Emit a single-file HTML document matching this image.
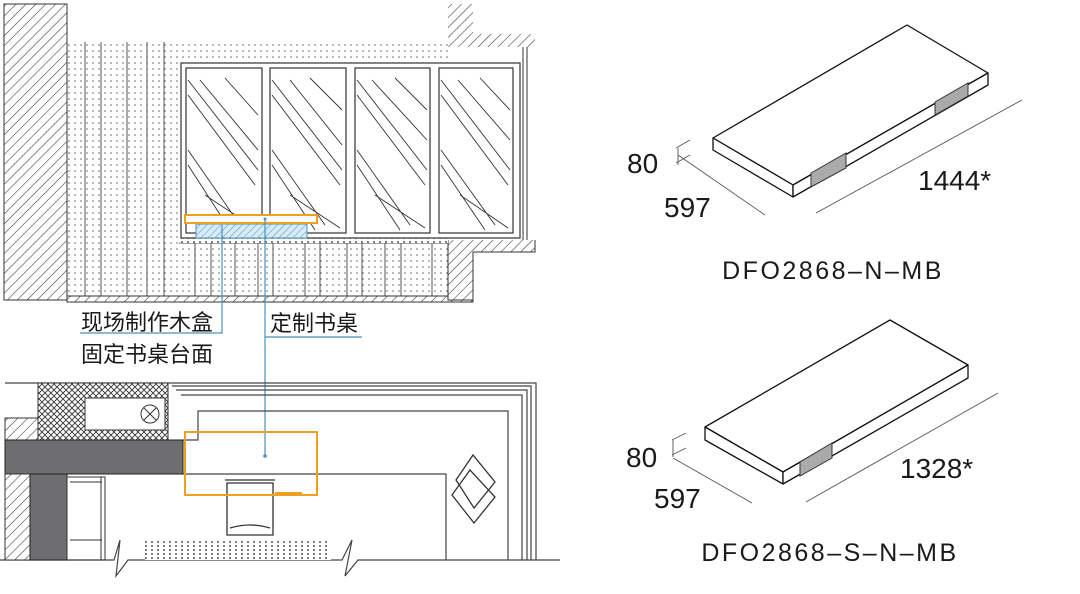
<!DOCTYPE html>
<html><head><meta charset="utf-8"><style>
body{margin:0;background:#fff;width:1080px;height:594px;overflow:hidden}
svg{display:block}
.t{font-family:"Liberation Sans","Noto Sans CJK SC",sans-serif;fill:#1a1a1a}
</style></head><body>
<svg width="1080" height="594" viewBox="0 0 1080 594" xmlns="http://www.w3.org/2000/svg">
<defs>
<pattern id="h" width="7" height="7" patternUnits="userSpaceOnUse" patternTransform="rotate(45)"><rect width="7" height="7" fill="#fff"/><line x1="0" y1="0" x2="0" y2="7" stroke="#333" stroke-width="1.1"/></pattern>
<pattern id="hb" width="5" height="5" patternUnits="userSpaceOnUse" patternTransform="rotate(45)"><rect width="5" height="5" fill="#d8ecf6"/><line x1="0" y1="0" x2="0" y2="5" stroke="#4a90c0" stroke-width="1"/></pattern>
<pattern id="d" width="6" height="6" patternUnits="userSpaceOnUse"><rect width="6" height="6" fill="#fff"/><circle cx="3" cy="3" r="0.8" fill="#666"/></pattern>
<pattern id="x" width="6" height="6" patternUnits="userSpaceOnUse"><rect width="6" height="6" fill="#fff"/><path d="M0 0L6 6M6 0L0 6" stroke="#333" stroke-width="0.9"/></pattern>
<pattern id="g" width="6" height="4" patternUnits="userSpaceOnUse"><rect width="6" height="4" fill="#fff"/><circle cx="2" cy="2" r="1" fill="#555"/></pattern>
</defs>
<!-- TOP PLAN -->
<rect x="67" y="42" width="381" height="254" fill="url(#d)"/>
<g stroke="#555" stroke-width="1">
<line x1="85" y1="42" x2="85" y2="296"/><line x1="101" y1="42" x2="101" y2="296"/><line x1="127" y1="42" x2="127" y2="296"/><line x1="147" y1="42" x2="147" y2="296"/><line x1="164" y1="42" x2="164" y2="296"/>
<line x1="179" y1="243" x2="448" y2="243"/>
<line x1="195" y1="243" x2="195" y2="296"/><line x1="211" y1="243" x2="211" y2="296"/><line x1="235" y1="243" x2="235" y2="296"/><line x1="258" y1="243" x2="258" y2="296"/><line x1="273" y1="243" x2="273" y2="296"/><line x1="305" y1="243" x2="305" y2="296"/><line x1="320" y1="243" x2="320" y2="296"/><line x1="347" y1="243" x2="347" y2="296"/><line x1="362" y1="243" x2="362" y2="296"/><line x1="385" y1="243" x2="385" y2="296"/><line x1="401" y1="243" x2="401" y2="296"/><line x1="432" y1="243" x2="432" y2="296"/>
</g>
<rect x="4" y="4" width="63" height="296" fill="url(#h)" stroke="#333"/>
<rect x="67" y="296" width="406" height="6" fill="url(#h)" stroke="#333"/>
<rect x="448" y="4" width="25" height="43" fill="url(#h)"/>
<rect x="473" y="34" width="62" height="13" fill="url(#h)"/>
<path d="M448 240V300H473V252H535V240" fill="url(#h)" stroke="#333"/>
<rect x="180" y="238" width="268" height="5" fill="url(#g)"/>
<rect x="181" y="63" width="339" height="175" fill="#fff" stroke="#333" stroke-width="1.2"/>
<line x1="523" y1="47" x2="523" y2="240" stroke="#333"/><line x1="527" y1="47" x2="527" y2="240" stroke="#333"/>
<g fill="#fff" stroke="#333" stroke-width="1.2">
<rect x="186" y="68" width="76" height="165"/><rect x="270" y="68" width="76" height="165"/><rect x="355" y="68" width="75" height="165"/><rect x="439" y="68" width="74" height="165"/>
</g>
<g stroke="#333" stroke-width="0.9">
<path d="M188 80L258 170M188 95L255 185M200 80L258 150M188 150L240 225M188 165L230 230M205 195L255 228M225 78L258 115"/>
<path d="M272 80L342 170M272 95L340 185M290 80L342 145M272 150L325 225M272 165L315 230M290 195L340 228M310 78L342 110"/>
<path d="M357 80L427 170M357 95L425 185M372 80L427 140M357 150L410 225M357 165L400 230M375 195L425 228M395 78L427 110"/>
<path d="M441 80L510 170M441 95L508 185M458 80L510 140M441 150L495 225M441 165L485 230M460 195L508 228M480 78L510 110"/>
</g>
<rect x="196" y="224" width="111" height="14" fill="url(#hb)" stroke="#4a90c0"/>
<rect x="185" y="215" width="132" height="8" fill="#fff" stroke="#f0a020" stroke-width="2"/>
<!-- leader lines -->
<g stroke="#4a90c0" stroke-width="1.2" fill="none">
<path d="M222 225V333H80"/>
<path d="M265 219V456M265 337H362"/>
</g>
<circle cx="265" cy="219" r="1.5" fill="#4a90c0"/><circle cx="265" cy="456" r="1.8" fill="#4a90c0"/>
<text class="t" x="81" y="330" font-size="22">现场制作木盒</text>
<text class="t" x="81" y="362" font-size="22">固定书桌台面</text>
<text class="t" x="270" y="331" font-size="22">定制书桌</text>
<!-- BOTTOM PLAN -->
<g fill="none" stroke="#444" stroke-width="1.2">
<path d="M5 383H536V560"/><path d="M172 386H531V560"/><path d="M176 390H527V560"/><path d="M181 395H522V560"/>
<path d="M183 440H198V411H508V560"/>
<path d="M183 474H446V560"/>
<path d="M0 560H114L120 540L116 576L128 560H342L352 540L345 576L358 560H560"/>
</g>
<rect x="38" y="383" width="130" height="57" fill="url(#x)" stroke="#333"/>
<rect x="85" y="398" width="80" height="32" fill="#fff" stroke="#333"/>
<circle cx="150" cy="414" r="9" fill="#fff" stroke="#333"/><path d="M144 408L156 420M156 408L144 420" stroke="#333"/>
<rect x="5" y="418" width="33" height="22" fill="url(#h)" stroke="#333"/>
<rect x="5" y="440" width="178" height="34" fill="#6e6e70" stroke="#222"/>
<rect x="5" y="474" width="25" height="86" fill="url(#h)" stroke="#333"/>
<rect x="30" y="474" width="37" height="86" fill="#6e6e70" stroke="#222"/>
<g fill="none" stroke="#333"><rect x="67" y="477" width="38" height="83"/><line x1="70" y1="482" x2="102" y2="482"/><line x1="70" y1="540" x2="102" y2="540"/><line x1="101" y1="477" x2="101" y2="560"/></g>
<rect x="145" y="541" width="186" height="19" fill="url(#g)"/>
<g fill="none" stroke="#333" stroke-width="1.3">
<path d="M227 483H273V535H227Z"/><path d="M230 528Q250 522 270 528"/><path d="M225 480H275"/>
<path d="M456 480L473 455L495 482L474 508Z"/><path d="M452 495L470 470L495 497L474 523Z"/>
</g>
<rect x="185" y="432" width="132" height="63" fill="none" stroke="#f0a020" stroke-width="2"/>
<line x1="275" y1="493" x2="302" y2="493" stroke="#f0a020" stroke-width="2"/>
<!-- SLAB 1 -->
<g stroke="#111" stroke-width="1.3" fill="#fff" stroke-linejoin="round">
<path d="M713 138L907 25L988 73L793 185Z"/>
<path d="M713 138V150L793 197V185Z"/>
<path d="M793 185V197L988 85V73Z"/>
</g>
<path d="M811 173L846 153V168L811 187Z" fill="#aaa" stroke="#333"/>
<path d="M935 102L968 83V96L935 115Z" fill="#aaa" stroke="#333"/>
<g stroke="#555" stroke-width="0.9">
<line x1="678" y1="155" x2="765" y2="215"/><line x1="816" y1="213" x2="1022" y2="100"/>
<line x1="676" y1="148" x2="690" y2="140"/><line x1="676" y1="163" x2="690" y2="155"/><line x1="678" y1="148" x2="678" y2="165"/>
</g>
<text class="t" x="627" y="173" font-size="28">80</text>
<text class="t" x="664" y="217" font-size="28">597</text>
<text class="t" x="918" y="190" font-size="28">1444*</text>
<text class="t" x="833" y="279" font-size="25" text-anchor="middle" letter-spacing="2.5">DFO2868–N–MB</text>
<!-- SLAB 2 -->
<g stroke="#111" stroke-width="1.3" fill="#fff" stroke-linejoin="round">
<path d="M705 427L890 320L968 365L783 472Z"/>
<path d="M705 427V440L783 484V472Z"/>
<path d="M783 472V484L968 378V365Z"/>
</g>
<path d="M800 462L832 443V458L800 476Z" fill="#aaa" stroke="#333"/>
<g stroke="#555" stroke-width="0.9">
<line x1="673" y1="458" x2="752" y2="503"/><line x1="806" y1="502" x2="998" y2="393"/>
<line x1="672" y1="440" x2="686" y2="433"/><line x1="672" y1="455" x2="686" y2="448"/><line x1="673" y1="440" x2="673" y2="457"/>
</g>
<text class="t" x="626" y="467" font-size="28">80</text>
<text class="t" x="654" y="508" font-size="28">597</text>
<text class="t" x="900" y="478" font-size="28">1328*</text>
<text class="t" x="830" y="561" font-size="25" text-anchor="middle" letter-spacing="2.5">DFO2868–S–N–MB</text>
</svg>
</body></html>
